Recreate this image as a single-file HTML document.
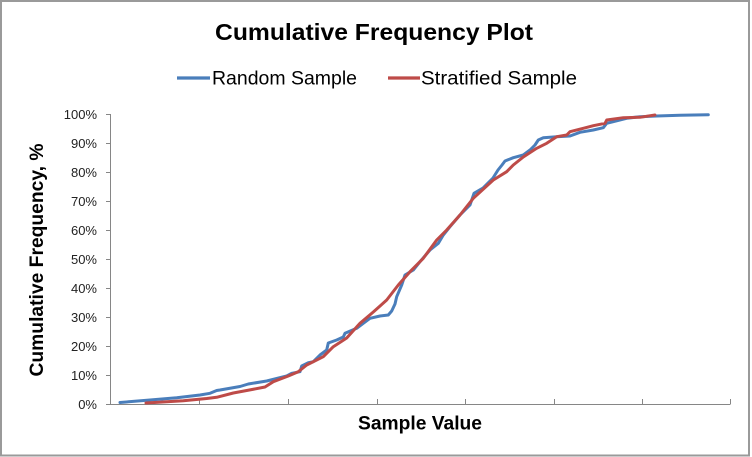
<!DOCTYPE html>
<html>
<head>
<meta charset="utf-8">
<style>
  html, body { margin: 0; padding: 0; background: #ffffff; }
  body { width: 752px; height: 457px; overflow: hidden; }
  svg { display: block; }
</style>
</head>
<body>
<svg width="752" height="457" viewBox="0 0 752 457" xmlns="http://www.w3.org/2000/svg">
  <rect x="0" y="0" width="752" height="457" fill="#ffffff"/>
  <rect x="1" y="1" width="748" height="454.5" fill="#ffffff" stroke="#9a9a9a" stroke-width="2"/>

  <!-- Title -->
  <text x="374" y="40" text-anchor="middle" font-family="Liberation Sans, sans-serif" font-weight="bold" font-size="23" fill="#000" textLength="318" lengthAdjust="spacingAndGlyphs">Cumulative Frequency Plot</text>

  <!-- Legend -->
  <line x1="177" y1="78" x2="210" y2="78" stroke="#4a7ebb" stroke-width="3.2"/>
  <text x="212" y="84.5" font-family="Liberation Sans, sans-serif" font-size="19" fill="#000" textLength="145" lengthAdjust="spacingAndGlyphs">Random Sample</text>
  <line x1="388" y1="78" x2="420" y2="78" stroke="#be4b48" stroke-width="3.2"/>
  <text x="421" y="84.5" font-family="Liberation Sans, sans-serif" font-size="19" fill="#000" textLength="156" lengthAdjust="spacingAndGlyphs">Stratified Sample</text>

  <!-- Y axis label -->
  <text transform="translate(43,260) rotate(-90)" text-anchor="middle" font-family="Liberation Sans, sans-serif" font-weight="bold" font-size="19" fill="#000" textLength="233" lengthAdjust="spacingAndGlyphs">Cumulative Frequency, %</text>

  <!-- X axis label -->
  <text x="420" y="429.5" text-anchor="middle" font-family="Liberation Sans, sans-serif" font-weight="bold" font-size="19" fill="#000" textLength="124" lengthAdjust="spacingAndGlyphs">Sample Value</text>

  <!-- Axes -->
  <g stroke="#868686" stroke-width="1" fill="none" shape-rendering="crispEdges">
    <line x1="110.5" y1="114" x2="110.5" y2="405"/>
    <line x1="110" y1="404.5" x2="730.5" y2="404.5"/>
    <!-- y ticks -->
    <line x1="106" y1="404.5" x2="110" y2="404.5"/>
    <line x1="106" y1="375.5" x2="110" y2="375.5"/>
    <line x1="106" y1="346.5" x2="110" y2="346.5"/>
    <line x1="106" y1="317.5" x2="110" y2="317.5"/>
    <line x1="106" y1="288.5" x2="110" y2="288.5"/>
    <line x1="106" y1="259.5" x2="110" y2="259.5"/>
    <line x1="106" y1="230.5" x2="110" y2="230.5"/>
    <line x1="106" y1="201.5" x2="110" y2="201.5"/>
    <line x1="106" y1="172.5" x2="110" y2="172.5"/>
    <line x1="106" y1="143.5" x2="110" y2="143.5"/>
    <line x1="106" y1="114.5" x2="110" y2="114.5"/>
    <!-- x ticks -->
    <line x1="199.5" y1="399" x2="199.5" y2="404"/>
    <line x1="288.5" y1="399" x2="288.5" y2="404"/>
    <line x1="377.5" y1="399" x2="377.5" y2="404"/>
    <line x1="465.5" y1="399" x2="465.5" y2="404"/>
    <line x1="554.5" y1="399" x2="554.5" y2="404"/>
    <line x1="642.5" y1="399" x2="642.5" y2="404"/>
    <line x1="730.5" y1="399" x2="730.5" y2="404"/>
  </g>

  <!-- Y tick labels -->
  <g font-family="Liberation Sans, sans-serif" font-size="13" fill="#222" text-anchor="end">
    <text x="97" y="409">0%</text>
    <text x="97" y="380">10%</text>
    <text x="97" y="351">20%</text>
    <text x="97" y="322">30%</text>
    <text x="97" y="293">40%</text>
    <text x="97" y="264">50%</text>
    <text x="97" y="235">60%</text>
    <text x="97" y="206">70%</text>
    <text x="97" y="177">80%</text>
    <text x="97" y="148">90%</text>
    <text x="97" y="119">100%</text>
  </g>

  <!-- Random sample (blue) -->
  <polyline fill="none" stroke="#4a7ebb" stroke-width="3" stroke-linejoin="round" stroke-linecap="round"
    points="120,402.5 150,400 176.7,397.7 200,395 210,393.3 216.7,390.5 220,390 240,386.5 248.3,384 266.7,381 286.7,376 291.7,373.3 300,371.7 301.7,366 308.3,362.7 313.3,361.7 320,355 326.7,350 328.3,343 336.7,340 343.3,337 345,333.3 356.7,328.3 363.3,323.3 370,318.3 380,316 388.3,315 391.7,311 395,304 396.7,296.7 401.7,285 405,275 413.3,270 420,261.7 430,250 438.3,243.3 443.3,235 450,226.7 460,215 470,205 474,193.3 483,188 493,178 498,170 502,165 505,161 513.3,157.7 523.3,155 530,150 535,145 538.3,140 543.3,137.7 556.7,136.7 570,136 580,132.3 593.3,130 603.3,127.7 606.7,123.3 613.3,121.7 626.7,118.3 640,116.7 656.7,116 680,115.3 708.3,114.7"/>

  <!-- Stratified sample (red) -->
  <polyline fill="none" stroke="#be4b48" stroke-width="3" stroke-linejoin="round" stroke-linecap="round"
    points="146,403 183.3,400.7 206.7,398.5 216.7,397.3 233.3,393 246.7,390.5 265,387 273.3,381.7 288.3,376 298.3,371.7 306.7,365 323.3,356.7 333.3,346.7 346.7,338 360,323.3 373.3,312 386.7,300 398.3,285 410,271.7 423.3,258.3 436.7,240 446.7,230 460,215 473.3,198.3 486.7,186 493.3,180 506.7,171.7 513.3,165 523.3,157 536.7,148.3 546.7,143.3 556.7,136.7 566.7,135 570,131.7 583.3,128.3 593.3,125.7 605,123.3 606.7,120 623.3,117.7 640,117.3 655,115"/>
</svg>
</body>
</html>
